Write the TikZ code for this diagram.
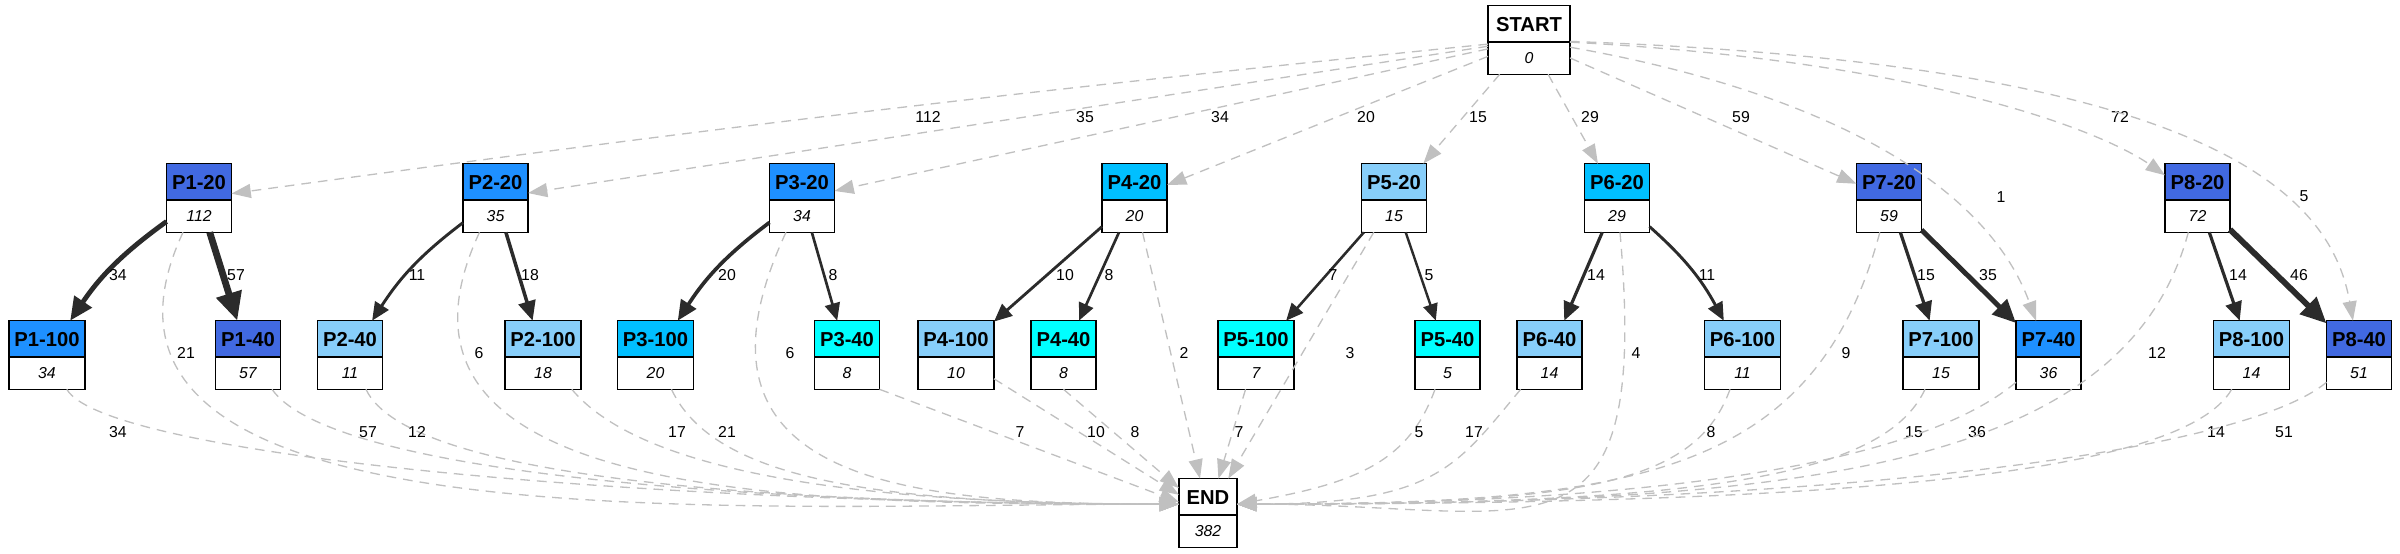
\documentclass[tikz,border=0pt]{standalone}
\usepackage{fontspec}
\setmainfont{Liberation Sans}
\usetikzlibrary{arrows.meta,shapes.multipart}

\definecolor{royal}{HTML}{4169E1}
\definecolor{dodger}{HTML}{1E90FF}
\definecolor{deepsky}{HTML}{00BFFF}
\definecolor{lightsky}{HTML}{87CEFA}
\definecolor{aqua}{HTML}{00FFFF}
\definecolor{edgegray}{HTML}{C0C0C0}
\definecolor{flowdark}{HTML}{2B2B2B}

\newcommand{\boxlines}[2]{\rule[-2mm]{0pt}{7mm}{\fontsize{11.5}{12}\selectfont\bfseries #1}\nodepart{two}\rule[-2mm]{0pt}{6.2mm}{\fontsize{9}{10}\selectfont\itshape #2}}

\begin{document}
\begin{tikzpicture}[x=0.2mm, y=-0.2mm,
	pbox/.style={rectangle split, rectangle split parts=2, draw=black, line width=0.75pt, inner xsep=2pt, inner ysep=0pt, outer sep=0pt},
	lbl/.style={font=\fontsize{9}{10}\selectfont, inner sep=0pt},
	skipedge/.style={draw=edgegray, line width=0.75pt, dash pattern=on 5.5pt off 4pt, -{Triangle[length=11pt,width=8pt]}},
	flow/.style={draw=flowdark, line width=1.13pt+0.048pt*#1, -{Triangle[length=6pt 2.6,width=5pt 2.4]}}]
	\useasboundingbox (0,0) rectangle (2400,554);
	
	\foreach \n/\x/\y/\w/\col/\lab/\val in {
		start/1529/40/16.4/white/START/0,
		end/1208/513/11.6/white/END/382,
		p1x20/199/198/13/royal/P1-20/112,
		p2x20/495.5/198/13/dodger/P2-20/35,
		p3x20/802/198/13/dodger/P3-20/34,
		p4x20/1134.5/198/13/deepsky/P4-20/20,
		p5x20/1394/198/13/lightsky/P5-20/15,
		p6x20/1617/198/13/deepsky/P6-20/29,
		p7x20/1889/198/13/royal/P7-20/59,
		p8x20/2197.5/198/13/royal/P8-20/72,
		p1x100/47/355/15.2/dodger/P1-100/34,
		p1x40/248/355/13/royal/P1-40/57,
		p2x40/350/355/13/lightsky/P2-40/11,
		p2x100/543/355/15.2/lightsky/P2-100/18,
		p3x100/655.5/355/15.2/deepsky/P3-100/20,
		p3x40/847/355/13/aqua/P3-40/8,
		p4x100/956/355/15.2/lightsky/P4-100/10,
		p4x40/1063.5/355/13/aqua/P4-40/8,
		p5x100/1256/355/15.2/aqua/P5-100/7,
		p5x40/1447.5/355/13/aqua/P5-40/5,
		p6x40/1549.5/355/13/lightsky/P6-40/14,
		p6x100/1742.5/355/15.2/lightsky/P6-100/11,
		p7x100/1941/355/15.2/lightsky/P7-100/15,
		p7x40/2048.5/355/13/dodger/P7-40/36,
		p8x100/2251.5/355/15.2/lightsky/P8-100/14,
		p8x40/2359/355/13/royal/P8-40/51}{
		\node[pbox, minimum width=\w mm, rectangle split part fill={\col,white}] (\n) at (\x,\y) {\boxlines{\lab}{\val}};
	}
	
	% from START
	\foreach \b/\bd/\val/\lx/\ly in {p1x20/1/112/928/117, p2x20/0/35/1085/117, p3x20/0/34/1220/117, p4x20/0/20/1366/117,
		p5x20/0/15/1478/117, p6x20/0/29/1590/117, p7x20/0/59/1741/117}{
		\draw[skipedge] (start) to[bend right=\bd] (\b);
		\node[lbl] (s\b) at (\lx,\ly) {\val};
	}
	\draw[skipedge] (start) to[out=-10, in=110, out distance=50mm, in distance=30mm] (p7x40);
	\node[lbl] (sp7x40) at (2001,197) {1};
	\draw[skipedge] (start) to[out=-3, in=145, out distance=70mm, in distance=16mm] (p8x20);
	\node[lbl] (sp8x20) at (2120,117) {72};
	\draw[skipedge] (start) to[out=-2, in=100, out distance=130mm, in distance=25mm] (p8x40);
	\node[lbl] (sp8x40) at (2304,196) {5};
	
	% flows
	\foreach \a/\b/\bd/\val/\lx in {p1x20/p1x100/10/34/118, p1x20/p1x40/0/57/236, p2x20/p2x40/10/11/417, p2x20/p2x100/0/18/530,
		p3x20/p3x100/10/20/727, p3x20/p3x40/0/8/833, p4x20/p4x100/0/10/1065, p4x20/p4x40/0/8/1109,
		p5x20/p5x100/0/7/1333, p5x20/p5x40/0/5/1429, p6x20/p6x40/0/14/1596, p6x20/p6x100/-10/11/1707,
		p7x20/p7x100/0/15/1926, p7x20/p7x40/0/35/1988, p8x20/p8x100/0/14/2238, p8x20/p8x40/0/46/2299}{
		\draw[flow=\val] (\a) to[bend right=\bd] (\b);
		\node[lbl] (f\b) at (\lx,275) {\val};
	}
	
	% to END
	\foreach \a/\o/\od/\i/\id/\tg/\val/\lx/\ly in {
		p1x100/-60/15/180/110/163/34/118/432, p1x20/-115/70/180/90/163/21/186/353,
		p1x40/-55/20/180/90/163/57/368/432, p2x40/-65/20/180/80/163/12/417/432,
		p2x20/-115/60/180/75/163/6/479/353, p2x100/-50/20/180/70/163/17/677/432,
		p3x100/-65/20/180/60/163/21/727/432, p3x20/-115/55/180/55/163/6/790/353,
		p5x40/-110/15/10/25/17/5/1419/432, p6x40/-130/20/0/40/17/17/1474/432,
		p6x20/-85/70/0/60/17/4/1636/353, p6x100/-110/20/0/70/17/8/1711/432,
		p7x20/-105/50/0/80/17/9/1846/353, p7x100/-115/20/0/90/17/15/1914/432,
		p7x40/-140/20/0/100/17/36/1977/432, p8x20/-105/50/0/110/17/12/2157/353,
		p8x100/-120/20/0/120/17/14/2216/432, p8x40/-140/20/0/130/17/51/2284/432}{
		\draw[skipedge] (\a) to[out=\o, in=\i, out distance=\od mm, in distance=\id mm] (end.\tg);
		\node[lbl] (e\a) at (\lx,\ly) {\val};
	}
	\draw[skipedge] (p3x40.south east) -- (end);
	\node[lbl] (ep3x40) at (1020,432) {7};
	\draw[skipedge] (p4x40.south) -- (end);
	\node[lbl] (ep4x40) at (1135,432) {8};
	\foreach \a/\val/\lx/\ly in {p4x100/10/1096/432, p4x20/2/1184/353, p5x100/7/1239/432, p5x20/3/1350/353}{
		\draw[skipedge] (\a) -- (end);
		\node[lbl] (e\a) at (\lx,\ly) {\val};
	}
\end{tikzpicture}
\end{document}
